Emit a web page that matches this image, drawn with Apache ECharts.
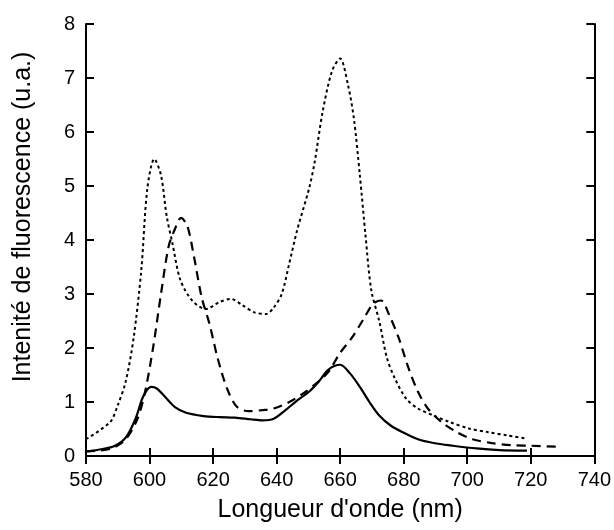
<!DOCTYPE html>
<html><head><meta charset="utf-8">
<script src="https://cdn.jsdelivr.net/npm/echarts@6/dist/echarts.min.js"></script>
<style>html,body{margin:0;padding:0;background:#fff}#c{width:614px;height:530px}</style>
</head><body><div id="c"></div>
<script>
var xTicks = [580,600,620,640,660,680,700,720,740];
var yTicks = [0,1,2,3,4,5,6,7,8];
var xTitle = "Longueur d'onde (nm)";
var yTitle = "Intenité de fluorescence (u.a.)";

var dottedX = [580,587.6,590,592.5,595,597.4,599.3,601.5,603.6,605.4,607.2,609.7,613.4,617.7,622,625.6,629.3,633,636.7,639.1,641.6,644,646.5,650.2,652,654.5,657.5,660,662.4,664.3,666.2,668,669.8,672.3,674.7,677.2,680.8,684.5,689.4,694.4,700.5,706.6,712.8,718];
var dottedY = [0.31,0.63,0.94,1.38,2.19,3.44,4.95,5.5,5.2,4.44,3.94,3.26,2.88,2.72,2.85,2.91,2.79,2.66,2.63,2.75,3.0,3.57,4.19,4.95,5.45,6.38,7.14,7.36,6.89,6.26,5.2,4.07,3.07,2.5,1.82,1.44,1.06,0.88,0.75,0.63,0.51,0.44,0.38,0.33];

var dashedX = [580,587.6,592.5,596.2,598.6,601.1,603.6,606,607.9,609.9,611.9,614,616.4,618.9,621.4,624.4,627.5,631.2,635.5,639.1,644,648.4,652.6,656.3,660,663.7,667.4,670.4,672.9,675.3,678.4,681.5,684.5,687.6,691.9,696.8,701.7,707.8,714,720.1,729.5];
var dashedY = [0.09,0.13,0.31,0.69,1.19,2.0,3.0,3.88,4.19,4.41,4.26,3.69,2.94,2.44,1.82,1.25,0.91,0.83,0.85,0.88,1.0,1.16,1.35,1.56,1.91,2.19,2.54,2.82,2.88,2.63,2.19,1.63,1.19,0.88,0.63,0.44,0.31,0.24,0.2,0.19,0.17];

var solidX = [580,585.2,588.8,592.5,595.6,598,600.5,602.3,604.8,607.9,611.5,617,622,626.9,631.8,635.5,639.1,642.8,646.5,650.2,653.3,656.3,660,663.1,666.2,669.2,672.3,676,679.7,684.5,689.4,695.5,702.9,710.2,718.8];
var solidY = [0.08,0.13,0.18,0.34,0.69,1.1,1.28,1.25,1.1,0.91,0.8,0.74,0.72,0.71,0.68,0.66,0.69,0.85,1.03,1.19,1.38,1.6,1.69,1.53,1.28,1.0,0.75,0.56,0.44,0.31,0.24,0.19,0.14,0.11,0.1];

function pairs(xs, ys){ return xs.map(function(x,i){return [x, ys[i]];}); }

var chart = echarts.init(document.getElementById('c'), null, {renderer:'canvas'});
var axisLine = {show:true, lineStyle:{color:'#000', width:2}};
var tick = {show:true, inside:true, length:8, lineStyle:{color:'#000', width:2}};
var font = 'Arial, "Liberation Sans", sans-serif';
chart.setOption({
  animation:false,
  backgroundColor:'#fff',
  grid:{left:86, right:18, top:24, bottom:74, containLabel:false},
  xAxis:[{
    type:'value', min:580, max:740, interval:20,
    axisLine:axisLine, axisTick:tick, splitLine:{show:false},
    axisLabel:{color:'#000', fontSize:20, fontFamily:font, margin:14},
    name:xTitle, nameLocation:'middle', nameGap:42,
    nameTextStyle:{color:'#000', fontSize:25, fontFamily:font}
  },{
    type:'value', position:'top', min:580, max:740, interval:20,
    axisLine:axisLine, axisTick:tick, splitLine:{show:false}, axisLabel:{show:false}
  }],
  yAxis:[{
    type:'value', min:0, max:8, interval:1,
    axisLine:axisLine, axisTick:tick, splitLine:{show:false},
    axisLabel:{color:'#000', fontSize:20, fontFamily:font, margin:11},
    name:yTitle, nameLocation:'middle', nameGap:50,
    nameTextStyle:{color:'#000', fontSize:25, fontFamily:font, padding:[0,0,0,46]}
  },{
    type:'value', position:'right', min:0, max:8, interval:1,
    axisLine:axisLine, axisTick:tick, splitLine:{show:false}, axisLabel:{show:false}
  }],
  series:[
    {type:'line', data:pairs(dottedX,dottedY), showSymbol:false, smooth:0.3,
     lineStyle:{color:'#000', width:2, type:[3,3]}},
    {type:'line', data:pairs(dashedX,dashedY), showSymbol:false, smooth:0.3,
     lineStyle:{color:'#000', width:2.2, type:[9,6]}},
    {type:'line', data:pairs(solidX,solidY), showSymbol:false, smooth:0.3,
     lineStyle:{color:'#000', width:2.2}}
  ]
});
</script></body></html>
